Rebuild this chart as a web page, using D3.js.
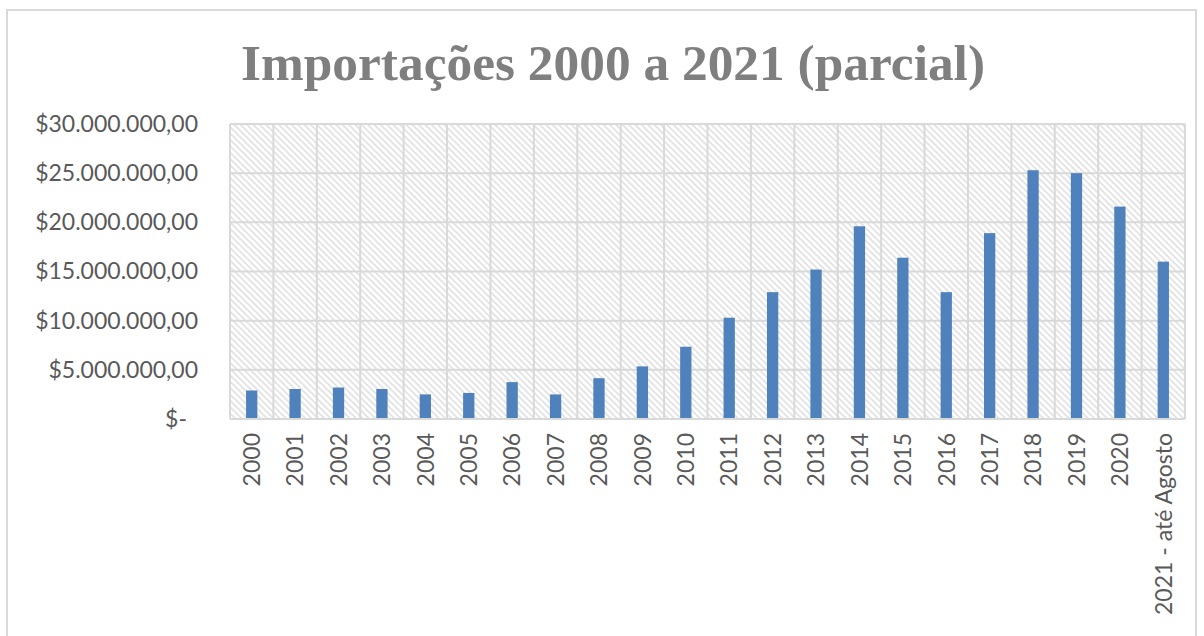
<!DOCTYPE html>
<html><head><meta charset="utf-8">
<script src="https://cdn.jsdelivr.net/npm/d3@7/dist/d3.min.js"></script>
<style>html,body{margin:0;padding:0;background:#fff;overflow:hidden}</style>
</head><body>
<svg id="chart" width="1204" height="636"></svg>
<script>
const titleText = "Importações 2000 a 2021 (parcial)";
const categories = ["2000","2001","2002","2003","2004","2005","2006","2007","2008","2009","2010",
  "2011","2012","2013","2014","2015","2016","2017","2018","2019","2020","2021 - até Agosto"];
const values = [2900000,3050000,3200000,3050000,2500000,2650000,3750000,2500000,4150000,5350000,7350000,
  10300000,12900000,15200000,19600000,16400000,12900000,18900000,25300000,25000000,21600000,16000000];
const yTicks = [0,5000000,10000000,15000000,20000000,25000000,30000000];

const svg = d3.select("#chart");
const plot = {left: 230, right: 1185, top: 124, bottom: 419};

// outer frame
svg.append("rect").attr("x",7).attr("y",10).attr("width",1189).attr("height",660)
  .attr("fill","#fff").attr("stroke","#d9d9d9").attr("stroke-width",2);

// hatch pattern
const defs = svg.append("defs");
const pat = defs.append("pattern").attr("id","hatch").attr("patternUnits","userSpaceOnUse")
  .attr("width",4.5).attr("height",4.5).attr("patternTransform","rotate(-45)");
pat.append("rect").attr("width",4.5).attr("height",4.5).attr("fill","#ffffff");
pat.append("line").attr("x1",1).attr("y1",0).attr("x2",1).attr("y2",4.5)
  .attr("stroke","#e0e0e0").attr("stroke-width",1.6);

const x = d3.scaleBand().domain(categories).range([plot.left, plot.right])
  .paddingInner(0.74).paddingOuter(0.37);
const y = d3.scaleLinear().domain([0,30000000]).range([plot.bottom, plot.top]);

svg.append("rect").attr("x",plot.left).attr("y",plot.top)
  .attr("width",plot.right-plot.left).attr("height",plot.bottom-plot.top)
  .attr("fill","url(#hatch)");

// gridlines
const grid = svg.append("g").attr("stroke","#d9d9d9").attr("stroke-width",2);
yTicks.forEach(t => {
  grid.append("line").attr("x1",plot.left).attr("x2",plot.right)
    .attr("y1",y(t)).attr("y2",y(t));
});
for (let i = 0; i <= categories.length; i++) {
  const xx = x.range()[0] + i * x.step();
  grid.append("line").attr("x1",xx).attr("x2",xx).attr("y1",plot.top).attr("y2",plot.bottom);
}

// bars
svg.append("g").selectAll("rect").data(values).join("rect")
  .attr("x",(d,i)=>x(categories[i]))
  .attr("width",x.bandwidth())
  .attr("y",d=>y(d))
  .attr("height",d=>y(0)-y(d))
  .attr("fill","#4f81bd");

// baseline
svg.append("line").attr("x1",plot.left).attr("x2",plot.right)
  .attr("y1",plot.bottom).attr("y2",plot.bottom).attr("stroke","#d9d9d9").attr("stroke-width",2);

// y axis labels
const loc = d3.formatLocale({decimal:",",thousands:".",grouping:[3],currency:["$",""]});
const fmt = loc.format("$,.2f");
const yAxis = d3.axisLeft(y).tickValues(yTicks).tickSize(0).tickPadding(0)
  .tickFormat(d => d === 0 ? "$-" : fmt(d));
const ya = svg.append("g").attr("transform",`translate(198,0)`).call(yAxis);
ya.select(".domain").remove();
ya.selectAll("text").attr("font-family","Lato").attr("font-size",23).attr("fill","#595959")
  .attr("dx", d => d === 0 ? -11 : 0);

// x axis labels
const xAxis = d3.axisBottom(x).tickSize(0).tickPadding(0);
const xa = svg.append("g").attr("transform",`translate(0,433)`).call(xAxis);
xa.select(".domain").remove();
xa.selectAll("text").attr("font-family","Lato").attr("font-size",23).attr("fill","#595959")
  .attr("text-anchor","end").attr("transform","rotate(-90)")
  .attr("x",0).attr("y",0).attr("dy","0.36em");

// title
const t = svg.append("text").attr("x",613).attr("y",80).attr("text-anchor","middle")
  .attr("font-family","Liberation Serif").attr("font-weight","bold").attr("font-size",50)
  .attr("fill","#7f7f7f").text(titleText);
t.attr("textLength",744).attr("lengthAdjust","spacingAndGlyphs");
</script>
</body></html>
